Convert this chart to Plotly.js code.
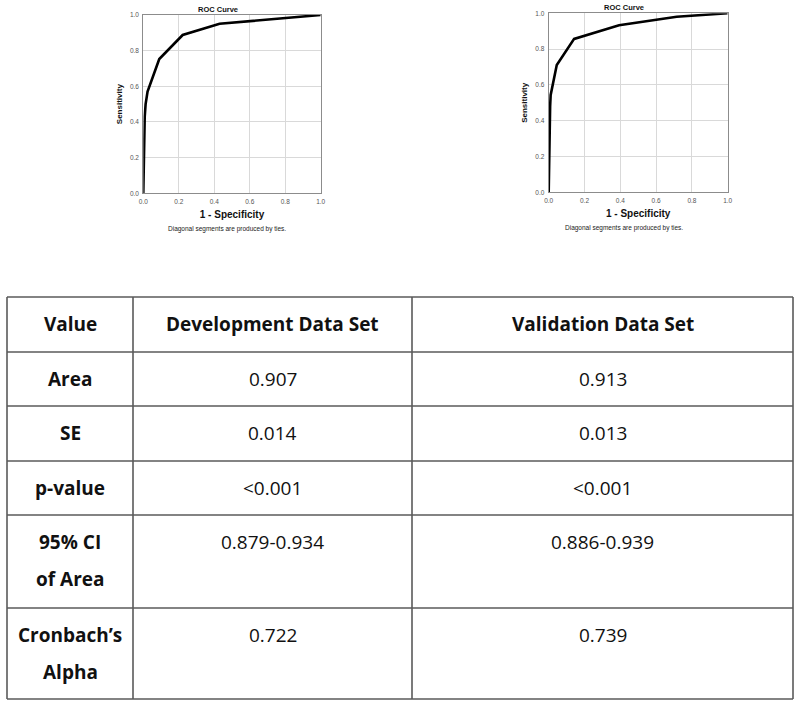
<!DOCTYPE html>
<html>
<head>
<meta charset="utf-8">
<script src="https://cdn.plot.ly/plotly-3.0.1.min.js"></script>
<style>html,body{margin:0;padding:0;background:#fff;}#chart{width:800px;height:706px;}</style>
</head>
<body>
<div id="chart"></div>
<script>
// ---- ROC data ----
const devFpr = [0, 0.002, 0.004, 0.008, 0.013, 0.024, 0.09, 0.222, 0.43, 0.8, 1];
const devTpr = [0, 0.2, 0.33, 0.43, 0.5, 0.57, 0.753, 0.888, 0.951, 0.982, 1];
const valFpr = [0, 0.002, 0.004, 0.008, 0.011, 0.045, 0.142, 0.393, 0.715, 1];
const valTpr = [0, 0.25, 0.38, 0.48, 0.544, 0.711, 0.857, 0.933, 0.981, 1];

const chartTitle = "ROC Curve";
const xTitle = "1 - Specificity";
const yTitle = "Sensitivity";
const caption = "Diagonal segments are produced by ties.";
const tickVals = [0, 0.2, 0.4, 0.6, 0.8, 1.0];

// ---- table data ----
const headers = ["Value", "Development Data Set", "Validation Data Set"];
const rowLabels = ["Area", "SE", "p-value", "95% CI\nof Area", "Cronbach’s\nAlpha"];
const devValues = ["0.907", "0.014", "<0.001", "0.879-0.934", "0.722"];
const valValues = ["0.913", "0.013", "<0.001", "0.886-0.939", "0.739"];

// ---- layout helpers (pixel -> paper) ----
const W = 800, H = 706;
const px = x => x / W;
const py = y => 1 - y / H;

const lineStyle = {color: "#000", width: 2.6};
const traces = [
  {x: devFpr, y: devTpr, type: "scatter", mode: "lines", line: lineStyle, xaxis: "x", yaxis: "y", hoverinfo: "x+y", showlegend: false},
  {x: valFpr, y: valTpr, type: "scatter", mode: "lines", line: lineStyle, xaxis: "x2", yaxis: "y2", hoverinfo: "x+y", showlegend: false}
];

function axis(domain, isX, anchor, title) {
  return {
    domain: domain, anchor: anchor, range: [0, 1], tickvals: tickVals, tickformat: ".1f",
    showgrid: true, gridcolor: "#d9d9d9", gridwidth: 1, zeroline: false,
    showline: true, linecolor: "#8c8c8c", linewidth: 1, mirror: true, ticks: "",
    tickfont: {family: "Liberation Sans, Arial, sans-serif", size: 6.5, color: "#555"},
    ticklabelstandoff: 2,
    fixedrange: true,
    title: {text: "<b>" + title + "</b>",
      font: {family: "Liberation Sans, Arial, sans-serif", size: isX ? 10 : 8, color: "#111"},
      standoff: isX ? 6 : 6}
  };
}

const annotations = [];
const shapes = [];

// chart titles + captions
[[217.7, 9.3, 227, 228.7], [624, 7.3, 624, 227.7]].forEach(p => {
  annotations.push({xref: "paper", yref: "paper", x: px(p[0]), y: py(p[1]), xanchor: "center", yanchor: "middle",
    text: "<b>" + chartTitle + "</b>", showarrow: false,
    font: {family: "Liberation Sans, Arial, sans-serif", size: 7.5, color: "#111"}});
  annotations.push({xref: "paper", yref: "paper", x: px(p[2]), y: py(p[3]), xanchor: "center", yanchor: "middle",
    text: caption, showarrow: false,
    font: {family: "Liberation Sans, Arial, sans-serif", size: 6.5, color: "#222"}});
});

// table geometry
const colEdges = [7, 133, 412, 793];
const rowEdges = [297, 352, 406, 461, 515, 608, 699];
const gridColor = "#5a5a5a";
colEdges.forEach(x => shapes.push({type: "line", xref: "paper", yref: "paper",
  x0: px(x), x1: px(x), y0: py(rowEdges[0]), y1: py(rowEdges[rowEdges.length - 1]),
  line: {color: gridColor, width: 1.6}}));
rowEdges.forEach(y => shapes.push({type: "line", xref: "paper", yref: "paper",
  x0: px(colEdges[0]), x1: px(colEdges[colEdges.length - 1]), y0: py(y), y1: py(y),
  line: {color: gridColor, width: 1.6}}));

const tfont = "Open Sans, Noto Sans, sans-serif";
function cellText(text, col, row, bold) {
  const cx = (colEdges[col] + colEdges[col + 1]) / 2;
  const lines = text.split("\n");
  lines.forEach((ln, i) => {
    annotations.push({xref: "paper", yref: "paper", x: px(cx), y: py(rowEdges[row] + 27 + i * 37),
      xanchor: "center", yanchor: "middle", showarrow: false,
      text: bold ? "<b>" + ln + "</b>" : ln,
      font: {family: tfont, size: 19, color: "#111"}});
  });
}
headers.forEach((h, c) => cellText(h, c, 0, true));
rowLabels.forEach((r, i) => {
  cellText(r, 0, i + 1, true);
  cellText(devValues[i], 1, i + 1, false);
  cellText(valValues[i], 2, i + 1, false);
});

const layout = {
  width: W, height: H, margin: {l: 0, r: 0, t: 0, b: 0},
  paper_bgcolor: "#fff", plot_bgcolor: "#fff", showlegend: false,
  xaxis: axis([px(143.3), px(320.7)], true, "y", xTitle),
  yaxis: axis([py(193.3), py(15)], false, "x", yTitle),
  xaxis2: axis([px(548.7), px(727.7)], true, "y2", xTitle),
  yaxis2: axis([py(192.3), py(13.3)], false, "x2", yTitle),
  annotations: annotations, shapes: shapes
};

Plotly.newPlot("chart", traces, layout, {displayModeBar: false, staticPlot: true});
</script>
</body>
</html>
